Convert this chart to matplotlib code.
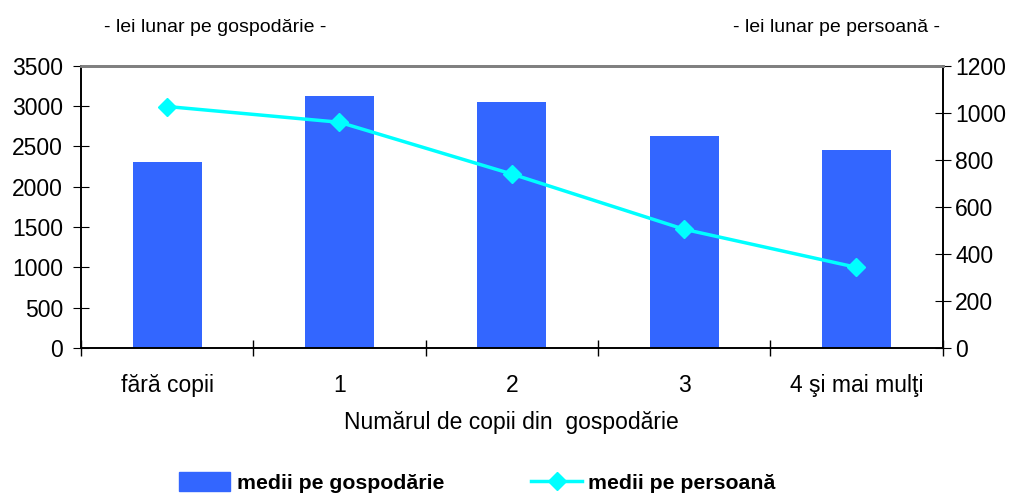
import numpy as np
import matplotlib.pyplot as plt
from matplotlib.lines import Line2D
from matplotlib.patches import Patch

plt.rcParams['font.family'] = ['Liberation Sans', 'DejaVu Sans']

categorii = ["fără copii", "1", "2", "3", "4 şi mai mulţi"]
medii_gospodarie = [2310, 3130, 3050, 2630, 2455]
medii_persoana = [1027, 960, 740, 505, 343]

fig = plt.figure(figsize=(10.16, 4.95), dpi=100)
ax = fig.add_axes([0.0797, 0.297, 0.848, 0.570])
ax2 = ax.twinx()

x = np.arange(len(categorii))
ax.bar(x, medii_gospodarie, width=0.4, color="#3366FF", zorder=2)
ax2.plot(x, medii_persoana, color="#00FFFF", lw=2.5, marker="D", ms=9,
         zorder=3)

ax.set_xlim(-0.5, len(categorii) - 0.5)
ax.set_ylim(0, 3500)
ax.set_yticks(range(0, 3501, 500))
ax2.set_ylim(0, 1200)
ax2.set_yticks(range(0, 1201, 200))

# ticks at category boundaries, labels at centres
ax.set_xticks(np.arange(-0.5, len(categorii), 1.0))
ax.set_xticklabels([])
ax.set_xticks(x, minor=True)
ax.set_xticklabels(categorii, minor=True)
ax.tick_params(axis="x", which="major", direction="inout", length=12,
               width=1)
ax.tick_params(axis="x", which="minor", length=0, pad=19, labelsize=16.5)
ax.tick_params(axis="y", direction="inout", length=12, labelsize=16.5, pad=7)
ax2.tick_params(axis="y", direction="inout", length=12, labelsize=16.5, pad=3)

for a in (ax, ax2):
    a.spines["top"].set_color("#808080")
    a.spines["top"].set_linewidth(2)
    for s in ("left", "right", "bottom"):
        a.spines[s].set_color("black")
        a.spines[s].set_linewidth(1.2)

ax.set_xlabel("Numărul de copii din  gospodărie", fontsize=16.5, labelpad=10)

fig.text(0.212, 0.945, "- lei lunar pe gospodărie -", ha="center",
         va="center", fontsize=14)
fig.text(0.823, 0.945, "- lei lunar pe persoană -", ha="center",
         va="center", fontsize=14)

handles = [
    Patch(color="#3366FF"),
    Line2D([0], [0], color="#00FFFF", lw=2.5, marker="D", ms=9),
]
fig.legend(handles, ["medii pe gospodărie", "medii pe persoană"],
           loc="center", bbox_to_anchor=(0.47, 0.025), ncol=2, frameon=False,
           prop={"weight": "bold", "size": 15.3}, handlelength=2.4,
           handleheight=1.0, handletextpad=0.3, columnspacing=4.1)

fig.savefig("out.png", dpi=100)
